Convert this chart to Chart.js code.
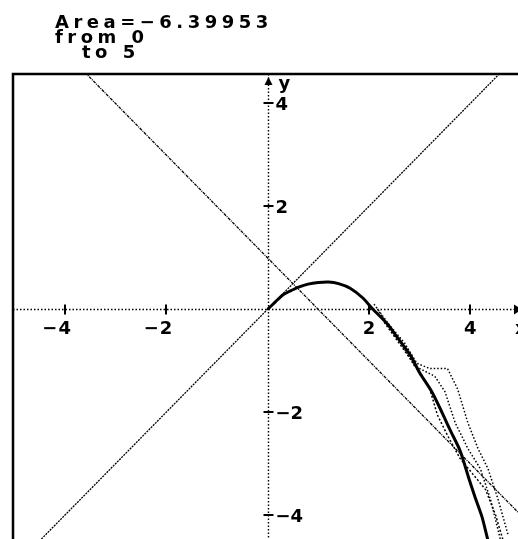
<!DOCTYPE html>
<html>
<head>
<meta charset="utf-8">
<script src="https://cdn.jsdelivr.net/npm/chart.js@4.4.1/dist/chart.umd.min.js"></script>
<style>
  html, body { margin: 0; padding: 0; background: #fff; }
</style>
</head>
<body>
<canvas id="graph" width="518" height="539"></canvas>
<script>
// readout printed above the graph window
var headerLines = ["Area=−6.39953", "from 0", "to 5"];

// window ticks
var xTicks = [-4, -2, 2, 4];
var yTicks = [4, 2, -2, -4];

// f(x), traced points
var curveX = [0, 0.15, 0.3, 0.5, 0.64, 0.8, 1.0, 1.2, 1.4, 1.63, 1.88, 2.08, 2.36, 2.55, 2.81, 3.0, 3.24, 3.44, 3.6, 3.8, 3.96, 4.09, 4.23, 4.33, 4.38];
var curveY = [0, 0.14, 0.28, 0.38, 0.44, 0.49, 0.52, 0.53, 0.5, 0.41, 0.22, 0, -0.28, -0.53, -0.88, -1.23, -1.6, -2.0, -2.34, -2.75, -3.25, -3.64, -4.03, -4.42, -4.6];

// the two straight lines
var lineUpX = [-5, 5];
var lineUpY = [-5, 5];
var lineDownX = [-3.6, 5];
var lineDownY = [4.6, -4.0];

// dotted traces to the right of f
var traceAX = [2.1, 2.4, 2.7, 2.95, 3.2, 3.55, 3.75, 3.95, 4.15, 4.35, 4.55, 4.75];
var traceAY = [0.1, -0.3, -0.65, -1.05, -1.15, -1.15, -1.55, -2.2, -2.7, -3.1, -3.7, -4.4];
var traceBX = [2.2, 2.6, 2.9, 3.3, 3.5, 3.7, 3.95, 4.2, 4.4, 4.6];
var traceBY = [-0.05, -0.6, -1.1, -1.3, -1.6, -2.2, -2.7, -3.1, -3.7, -4.5];
var traceCX = [2.3, 2.7, 3.05, 3.2, 3.35, 3.55, 3.8, 4.05, 4.3, 4.5, 4.65];
var traceCY = [-0.25, -0.8, -1.3, -1.55, -2.05, -2.45, -2.9, -3.2, -3.5, -4.0, -4.5];

function toPoints(xs, ys) {
  return xs.map(function (v, i) { return { x: v, y: ys[i] }; });
}

var FONT = 'bold 18px "DejaVu Sans"';

function fmt(v) {
  return v < 0 ? "−" + Math.abs(v) : String(v);
}

// axes, tick crosses and labels drawn through the chart's scales
var calcAxes = {
  id: "calcAxes",
  beforeDatasetsDraw: function (chart) {
    var ctx = chart.ctx, a = chart.chartArea;
    var sx = chart.scales.x, sy = chart.scales.y;
    var x0 = Math.round(sx.getPixelForValue(0)) + 0.5;
    var y0 = Math.round(sy.getPixelForValue(0)) + 0.5;

    ctx.save();
    ctx.strokeStyle = "#000";
    ctx.fillStyle = "#000";
    ctx.lineWidth = 1.4;
    ctx.setLineDash([1.5, 2]);
    ctx.beginPath();
    ctx.moveTo(a.left, y0); ctx.lineTo(a.right, y0);
    ctx.moveTo(x0, a.top); ctx.lineTo(x0, a.bottom);
    ctx.stroke();
    ctx.setLineDash([]);

    ctx.lineWidth = 2;
    ctx.beginPath();
    xTicks.forEach(function (v) {
      var px = Math.round(sx.getPixelForValue(v));
      ctx.moveTo(px, y0 - 5); ctx.lineTo(px, y0 + 5);
    });
    yTicks.forEach(function (v) {
      var py = Math.round(sy.getPixelForValue(v));
      ctx.moveTo(x0 - 5, py); ctx.lineTo(x0 + 5, py);
    });
    ctx.stroke();

    ctx.font = FONT;
    ctx.textBaseline = "alphabetic";
    xTicks.forEach(function (v) {
      var px = sx.getPixelForValue(v);
      var digits = String(Math.abs(v));
      var dw = ctx.measureText(digits).width;
      ctx.textAlign = "center";
      ctx.fillText(digits, px, y0 + 24);
      if (v < 0) {
        ctx.textAlign = "right";
        ctx.fillText("−", px - dw / 2 - 1, y0 + 24);
      }
    });
    ctx.textAlign = "left";
    yTicks.forEach(function (v) {
      var py = sy.getPixelForValue(v);
      ctx.fillText(fmt(v), x0 + 7, py + 7);
    });

    // arrow heads and axis names
    ctx.beginPath();
    ctx.moveTo(x0, a.top + 3);
    ctx.lineTo(x0 - 4, a.top + 11);
    ctx.lineTo(x0 + 4, a.top + 11);
    ctx.closePath();
    ctx.fill();
    ctx.beginPath();
    ctx.moveTo(a.right + 4, y0);
    ctx.lineTo(a.right - 4, y0 - 5);
    ctx.lineTo(a.right - 4, y0 + 5);
    ctx.closePath();
    ctx.fill();
    ctx.fillText("y", x0 + 10, a.top + 15);
    ctx.fillText("x", a.right - 3, y0 + 24);
    ctx.restore();
  },
  afterDraw: function (chart) {
    var ctx = chart.ctx, a = chart.chartArea;
    ctx.save();
    // window frame (left and top edges)
    ctx.strokeStyle = "#000";
    ctx.lineWidth = 2.5;
    ctx.beginPath();
    ctx.moveTo(a.left, chart.height);
    ctx.lineTo(a.left, a.top);
    ctx.lineTo(chart.width, a.top);
    ctx.stroke();

    ctx.fillStyle = "#000";
    ctx.font = FONT;
    ctx.letterSpacing = "4.5px";
    ctx.textAlign = "left";
    ctx.textBaseline = "alphabetic";
    ctx.fillText(headerLines[0], 55, 28);
    ctx.fillText(headerLines[1], 55, 43);
    ctx.fillText(headerLines[2], 82, 58);
    ctx.restore();
  }
};

var thin = { pointRadius: 0, borderColor: "#000", borderWidth: 1.3, showLine: true, tension: 0 };

new Chart(document.getElementById("graph"), {
  type: "scatter",
  data: {
    datasets: [
      Object.assign({}, thin, { data: toPoints(lineUpX, lineUpY), borderDash: [2, 1] }),
      Object.assign({}, thin, { data: toPoints(lineDownX, lineDownY), borderDash: [3, 1, 1, 1] }),
      Object.assign({}, thin, { data: toPoints(traceAX, traceAY), borderDash: [1.5, 2], borderWidth: 1.5 }),
      Object.assign({}, thin, { data: toPoints(traceBX, traceBY), borderDash: [1.5, 2], borderWidth: 1.5 }),
      Object.assign({}, thin, { data: toPoints(traceCX, traceCY), borderDash: [2, 2], borderWidth: 1.5 }),
      Object.assign({}, thin, { data: toPoints(curveX, curveY), borderWidth: 3, tension: 0.25 })
    ]
  },
  options: {
    responsive: false,
    animation: false,
    devicePixelRatio: 1,
    layout: { padding: { left: 13, top: 74, right: 0, bottom: 0 } },
    plugins: { legend: { display: false }, tooltip: { enabled: false } },
    scales: {
      x: { type: "linear", min: -5.02, max: 4.94, display: false },
      y: { type: "linear", min: -4.46, max: 4.57, display: false }
    }
  },
  plugins: [calcAxes]
});
</script>
</body>
</html>
